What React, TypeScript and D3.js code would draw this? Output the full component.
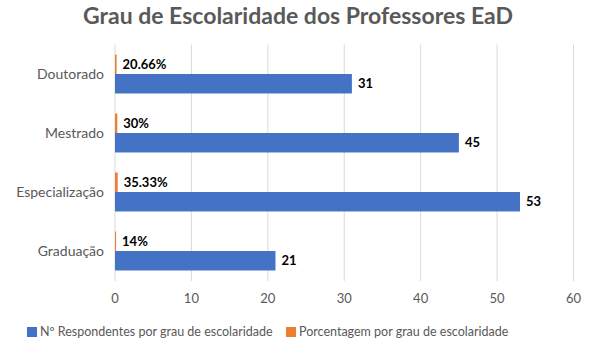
import React from "react";
import * as d3 from "d3";

const categories = ["Doutorado", "Mestrado", "Especialização", "Graduação"];
const respondentes = [31, 45, 53, 21];
const porcentagem = [0.2066, 0.3, 0.3533, 0.14];
const porcentagemLabels = ["20.66%", "30%", "35.33%", "14%"];
const xTicks = [0, 10, 20, 30, 40, 50, 60];
const seriesNames = ["Nº Respondentes por grau de escolaridade", "Porcentagem por grau de escolaridade"];
const colors = ["#4472C4", "#ED7D31"];

const W = 596, H = 357;
const FONT = "Lato, 'Open Sans', sans-serif";

export default function App() {
  const x = d3.scaleLinear().domain([0, 60]).range([115, 573.5]);
  const y = d3.scaleBand().domain(categories).range([44.5, 280.5]).paddingInner(0.34).paddingOuter(0.17);
  const inner = d3.scaleBand().domain(["pct", "num"]).range([0, y.bandwidth()]);
  const grey = "#595959";
  return (
    <svg width={W} height={H} style={{ position: "absolute", left: 0, top: 0, fontFamily: FONT }}>
      <rect width={W} height={H} fill="#fff" />
      <text x={298} y={23.5} textAnchor="middle" fontSize={23} fontWeight={700} fill={grey}>
        Grau de Escolaridade dos Professores EaD
      </text>
      {xTicks.map((t) => (
        <g key={t}>
          <line x1={x(t)} x2={x(t)} y1={44.5} y2={281} stroke="#D9D9D9" strokeWidth={1} />
          <text x={x(t)} y={303} textAnchor="middle" fontSize={13} fill={grey}>{t}</text>
        </g>
      ))}
      {categories.map((c, i) => {
        const y0 = y(c)!;
        return (
          <g key={c}>
            <text x={104} y={y0 + y.bandwidth() / 2} dy="0.35em" textAnchor="end" fontSize={14} fill={grey}>{c}</text>
            <rect x={x(0)} y={y0 + inner("pct")!} width={x(porcentagem[i]) - x(0)} height={inner.bandwidth()} fill={colors[1]} />
            <rect x={x(0)} y={y0 + inner("num")!} width={x(respondentes[i]) - x(0)} height={inner.bandwidth()} fill={colors[0]} />
            <text x={x(porcentagem[i]) + 6} y={y0 + inner("pct")! + inner.bandwidth() / 2} dy="0.35em" fontSize={13} fontWeight={700} fill="#000">{porcentagemLabels[i]}</text>
            <text x={x(respondentes[i]) + 6} y={y0 + inner("num")! + inner.bandwidth() / 2} dy="0.35em" fontSize={13} fontWeight={700} fill="#000">{respondentes[i]}</text>
          </g>
        );
      })}
      <g>
        <rect x={27} y={327} width={10} height={10} fill={colors[0]} />
        <text x={40} y={332} dy="0.35em" fontSize={12.5} fill={grey}>{seriesNames[0]}</text>
        <rect x={286} y={327} width={10} height={10} fill={colors[1]} />
        <text x={299} y={332} dy="0.35em" fontSize={12.5} fill={grey}>{seriesNames[1]}</text>
      </g>
    </svg>
  );
}
